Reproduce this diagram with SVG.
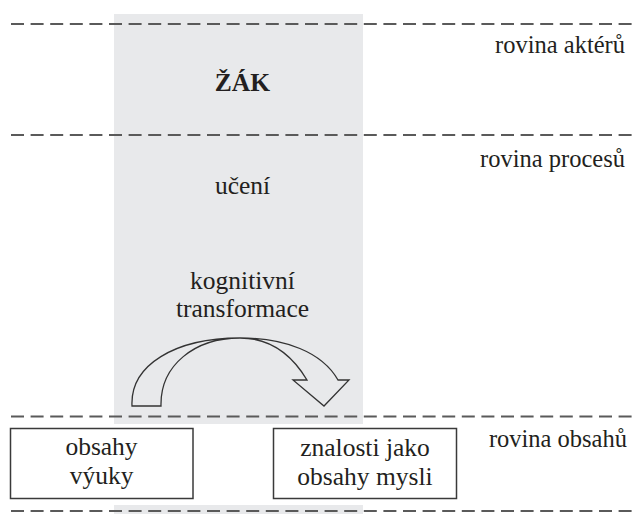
<svg xmlns="http://www.w3.org/2000/svg" width="636" height="514" viewBox="0 0 636 514">
  <style>
    .band { fill: #e8e9eb; }
    .level { stroke: #5a5a5a; stroke-width: 2; stroke-dasharray: 13 6.6; fill: none; }
    .t { font-size: 25.5px; fill: #231f20; }
    .lbl { font-size: 24.5px; fill: #231f20; text-anchor: end; }
    .mid { text-anchor: middle; }
    .box { fill: #ffffff; stroke: #3a3a3a; stroke-width: 1.5; }
    .arrow { fill: none; stroke: #333333; stroke-width: 1.3; stroke-linejoin: miter; }
  </style>

  <!-- shaded pupil column -->
  <rect class="band" x="114" y="14" width="249" height="410"/>
  <rect class="band" x="114" y="505" width="249" height="9"/>

  <!-- dashed level separators -->
  <g id="levels">
    <line class="level" x1="11" y1="24" x2="632" y2="24"/>
    <line class="level" x1="11" y1="135" x2="632" y2="135"/>
    <line class="level" x1="11" y1="416.5" x2="632" y2="416.5"/>
    <line class="level" x1="11" y1="511" x2="632" y2="511"/>
  </g>

  <g font-family="Liberation Serif, serif">
    <!-- level labels -->
    <text class="lbl" x="625" y="53">rovina aktérů</text>
    <text class="lbl" x="625" y="167">rovina procesů</text>
    <text class="lbl" x="627" y="447">rovina obsahů</text>

    <g id="zak">
      <text class="t mid" x="242.5" y="91" font-weight="bold" font-size="25">ŽÁK</text>
    </g>

    <g id="uceni">
      <text class="t mid" x="242.5" y="194" font-size="25">učení</text>
    </g>

    <g id="transformace">
      <text class="t mid" x="242.5" y="289">kognitivní</text>
      <text class="t mid" x="242.5" y="317">transformace</text>
    </g>

    <g id="obsahy-vyuky">
      <rect class="box" x="10.5" y="428.5" width="182.5" height="70"/>
      <text class="t mid" x="101.5" y="455">obsahy</text>
      <text class="t mid" x="101.5" y="484">výuky</text>
    </g>

    <g id="znalosti">
      <rect class="box" x="273.5" y="428.5" width="183" height="70"/>
      <text class="t mid" x="365" y="456">znalosti jako</text>
      <text class="t mid" x="365" y="485">obsahy mysli</text>
    </g>
  </g>

  <!-- curved transformation arrow -->
  <g id="connectors">
    <path class="arrow" d="M132,406 C130,365 175,338 240,338 C285,338 322,352 338,380 L349,380 L324,406 L293,380 L307,380 C292,355 270,338 240,338 C195,338 160,365 161,406 Z"/>
  </g>
</svg>
